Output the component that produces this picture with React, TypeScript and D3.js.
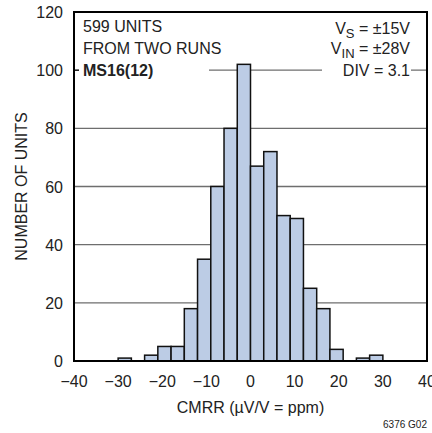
import React from "react";
import * as d3 from "d3";

const binStarts = [-30, -27, -24, -21, -18, -15, -12, -9, -6, -3, 0, 3, 6, 9, 12, 15, 18, 21, 24, 27];
const counts = [1, 0, 2, 5, 5, 18, 35, 60, 80, 102, 67, 72, 50, 49, 25, 18, 4, 0, 1, 2];
const binWidth = 3;
const xTicks = [-40, -30, -20, -10, 0, 10, 20, 30, 40];
const yTicks = [0, 20, 40, 60, 80, 100, 120];
const gridValues = [20, 40, 60, 80, 100];

const W = 432;
const H = 433;
const M = { left: 74, right: 427, top: 12, bottom: 361 };
const FONT = "'Liberation Sans Narrow', 'Arial Narrow', 'Liberation Sans', sans-serif";

export default function App() {
  const x = d3.scaleLinear().domain([-40, 40]).range([M.left, M.right]);
  const y = d3.scaleLinear().domain([0, 120]).range([M.bottom, M.top]);
  const fmt = (v: number) => (v < 0 ? "\u2212" + Math.abs(v) : String(v));

  return (
    <svg width={W} height={H} style={{ position: "absolute", left: 0, top: 0, background: "#fff" }} fontFamily={FONT}>
      {gridValues.map((g) => (
        <line key={g} x1={M.left} x2={M.right} y1={y(g)} y2={y(g)} stroke="#6e6e6e" strokeWidth={1.4} />
      ))}
      {/* text masks over gridline */}
      <rect x={M.left + 1} y={y(100) - 4} width={209 - M.left - 1} height={8} fill="#fff" />
      <rect x={322} y={y(100) - 4} width={411 - 322} height={8} fill="#fff" />
      {/* inward tick at 100 on left axis */}
      <line x1={M.left} x2={M.left + 5} y1={y(100)} y2={y(100)} stroke="#000" strokeWidth={1.4} />
      {binStarts.map((b, i) =>
        counts[i] > 0 ? (
          <rect
            key={b}
            x={x(b)}
            y={y(counts[i])}
            width={x(b + binWidth) - x(b)}
            height={y(0) - y(counts[i])}
            fill="#bccce5"
            stroke="#111"
            strokeWidth={1.5}
          />
        ) : null
      )}
      <rect x={M.left} y={M.top} width={M.right - M.left} height={M.bottom - M.top} fill="none" stroke="#000" strokeWidth={2} />
      {yTicks.map((t) => (
        <text key={t} x={63} y={y(t) + 6} textAnchor="end" fontSize={16} fill="#222">
          {t}
        </text>
      ))}
      {xTicks.map((t) => (
        <text key={t} x={x(t)} y={387} textAnchor="middle" fontSize={16} fill="#222">
          {fmt(t)}
        </text>
      ))}
      <text x={(M.left + M.right) / 2} y={413} textAnchor="middle" fontSize={16} fill="#222">
        CMRR (µV/V = ppm)
      </text>
      <text transform={`translate(27, ${(M.top + M.bottom) / 2}) rotate(-90)`} textAnchor="middle" fontSize={16} fill="#222">
        NUMBER OF UNITS
      </text>
      <text x={427} y={428} textAnchor="end" fontSize={10} fill="#222">
        6376 G02
      </text>
      <text x={83} y={32} fontSize={16} fill="#222">599 UNITS</text>
      <text x={83} y={54} fontSize={16} fill="#222">FROM TWO RUNS</text>
      <text x={83} y={76} fontSize={16} fontWeight="bold" fill="#222">MS16(12)</text>
      <text x={410} y={34} textAnchor="end" fontSize={16} fill="#222">
        V<tspan fontSize={13} dy={4}>S</tspan>
        <tspan dy={-4}> = ±15V</tspan>
      </text>
      <text x={410} y={54} textAnchor="end" fontSize={16} fill="#222">
        V<tspan fontSize={13} dy={4}>IN</tspan>
        <tspan dy={-4}> = ±28V</tspan>
      </text>
      <text x={410} y={76} textAnchor="end" fontSize={16} fill="#222">
        DIV = 3.1
      </text>
    </svg>
  );
}
